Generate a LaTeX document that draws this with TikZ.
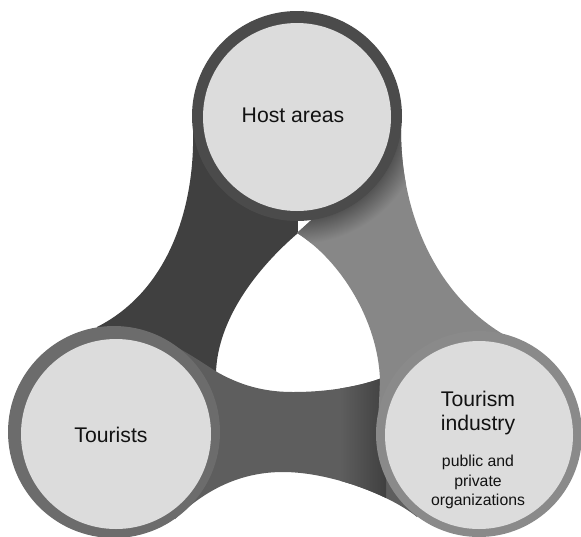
\documentclass[tikz,border=0pt]{standalone}
\usepackage{fontspec}
\setmainfont{Liberation Sans}
\definecolor{darkc}{HTML}{404040}
\definecolor{botc}{HTML}{5E5E5E}
\definecolor{medc}{HTML}{878787}
\definecolor{shadowc}{HTML}{555555}
\definecolor{hostringc}{HTML}{4B4B4B}
\definecolor{tourringc}{HTML}{6C6C6C}
\definecolor{indringc}{HTML}{8A8A8A}
\definecolor{diskc}{HTML}{DCDCDC}
\definecolor{botshadow}{HTML}{404040}
\pgfdeclareradialshading{hostshadow}{\pgfpoint{0bp}{0bp}}{color(0bp)=(shadowc); color(20.5bp)=(shadowc); color(25bp)=(medc); color(50bp)=(medc)}
\begin{document}
\begin{tikzpicture}[x=1pt,y=-1pt,
  disk/.style={circle,fill=diskc,inner sep=0pt,minimum size=#1},
  ring/.style={circle,inner sep=0pt,minimum size=#1},
  big/.style={font=\fontsize{21.2}{24}\selectfont,inner sep=0pt,align=center,text=black!93},
  small/.style={font=\fontsize{15.8}{19.5}\selectfont,inner sep=0pt,align=center,text=black!93}]
\useasboundingbox (0,0) rectangle (581,536);
\coordinate (H) at (297,116);
\coordinate (T) at (114,432);
\coordinate (I) at (479,434);
% band host - tourists
\fill[darkc] (H) -- (193,130) .. controls (195,205) and (170,290) .. (97,327) -- (T) -- (216,380) -- (216,372) .. controls (218,320) and (255,270) .. (298,233) -- cycle;
% band tourists - industry
\begin{scope}
\clip (T) -- (122,327) .. controls (160,333) and (195,358) .. (217,372) .. controls (245,388) and (270,392) .. (293,392) .. controls (330,392) and (360,386) .. (382,378) -- (I) -- (417,517) .. controls (390,495) and (330,472) .. (283,472) .. controls (240,472) and (205,490) .. (175,519) -- cycle;
\fill[botc] (0,0) rectangle (581,536);
\shade[left color=botc, right color=botshadow] (340,360) rectangle (386,525);
\end{scope}
% band host - industry
\begin{scope}
\clip (H) -- (401,130) .. controls (401,230) and (450,320) .. (537,350) -- (I) -- (378,425) -- (380,380) .. controls (378,320) and (340,260) .. (297,233) -- (318,214) -- cycle;
\fill[medc] (0,0) rectangle (581,536);
\shade[shading=hostshadow] (H) circle (128);
\end{scope}
% rings
\node[ring=210pt, fill=hostringc] (hostring) at (H) {};
\node[ring=212pt, fill=tourringc] (tourring) at (T) {};
\node[ring=206pt, fill=indringc] (indring) at (I) {};
% discs
\node[disk=188pt] (host) at (297,117) {};
\node[disk=190pt] (tour) at (116,434) {};
\node[disk=188pt] (ind) at (479,435) {};
% labels
\node[big, anchor=base] (hostlbl) at (293,122) {Host areas};
\node[big, anchor=base] (tourlbl) at (111,442) {Tourists};
\node[big] (indlbl) at (478,412.8) {Tourism\\industry};
\node[small] (indsub) at (478,482.2) {public and\\private\\organizations};
\end{tikzpicture}
\end{document}
